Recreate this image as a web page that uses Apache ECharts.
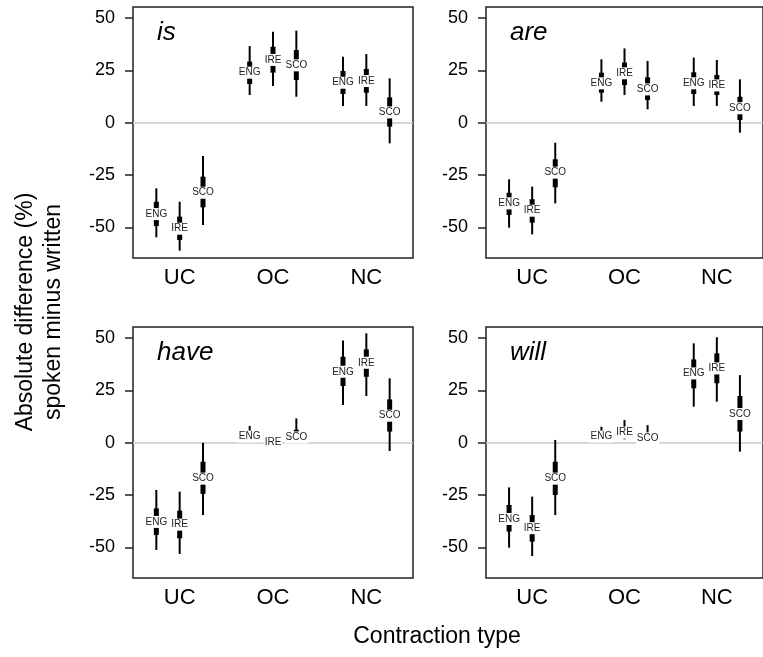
<!DOCTYPE html>
<html>
<head>
<meta charset="utf-8">
<script src="https://cdn.jsdelivr.net/npm/echarts@6/dist/echarts.min.js"></script>
<style>
  html, body { margin: 0; padding: 0; background: #fff; }
  #chart { width: 763px; height: 657px; }
</style>
</head>
<body>
<div id="chart"></div>
<script>
// contraction types and varieties
const contractionTypes = ['UC', 'OC', 'NC'];
const varieties = ['ENG', 'IRE', 'SCO'];
const xPos = [1, 2, 3, 5, 6, 7, 9, 10, 11]; // UC: 1-3, OC: 5-7, NC: 9-11
const typeTicks = [2, 6, 10];
const yTicks = [-50, -25, 0, 25, 50];
const panelWords = ['is', 'are', 'have', 'will'];

// is
const estIs  = [-43.7, -50.7, -33.5, 23.9, 30.0, 27.4, 19.1, 19.9, 4.9];
const lo95Is = [-54.8, -61.2, -48.9, 13.2, 17.5, 12.4, 8.0, 8.0, -9.9];
const hi95Is = [-31.4, -37.8, -15.9, 36.6, 43.5, 44.0, 31.5, 32.8, 21.2];
const lo50Is = [-49.4, -56.1, -40.5, 18.5, 23.9, 20.4, 13.7, 14.3, -1.9];
const hi50Is = [-37.8, -44.9, -25.8, 29.2, 36.3, 34.7, 24.7, 25.7, 12.1];

// are
const estAre  = [-38.6, -42.1, -23.9, 18.8, 23.6, 15.9, 18.8, 17.8, 6.9];
const lo95Are = [-50.2, -53.4, -38.6, 10.0, 13.2, 6.4, 8.0, 8.0, -4.8];
const hi95Are = [-27.1, -30.6, -9.6, 30.3, 35.5, 29.5, 31.1, 30.0, 20.7];
const lo50Are = [-44.1, -47.8, -30.9, 14.3, 18.0, 10.8, 13.7, 13.2, 1.3];
const hi50Are = [-33.5, -36.6, -17.5, 23.9, 28.7, 21.7, 24.1, 22.8, 12.4];

// have
const estHave  = [-37.9, -39.2, -17.2, 2.9, 0.3, 2.5, 33.9, 38.2, 12.9];
const lo95Have = [-51.3, -53.2, -34.6, 0.5, -1.0, 0.0, 18.0, 22.3, -4.0];
const hi95Have = [-22.6, -23.4, 0.0, 8.0, 2.0, 11.6, 48.8, 52.3, 30.8];
const lo50Have = [-44.1, -45.7, -24.5, 1.8, -0.3, 1.5, 27.1, 31.5, 5.3];
const hi50Have = [-31.4, -32.5, -9.1, 4.5, 1.0, 6.2, 41.1, 44.6, 20.7];

// will
const estWill  = [-36.5, -40.9, -17.2, 2.9, 4.8, 2.1, 33.1, 35.5, 13.7];
const lo95Will = [-50.2, -54.2, -34.6, 0.8, 1.6, 0.5, 17.2, 19.6, -4.3];
const hi95Will = [-21.4, -25.8, 1.3, 7.6, 10.8, 8.4, 47.5, 50.4, 32.3];
const lo50Will = [-42.5, -47.3, -25.0, 2.0, 3.2, 1.4, 26.0, 28.4, 5.3];
const hi50Will = [-29.8, -34.6, -9.1, 4.2, 7.0, 4.5, 39.8, 42.7, 22.3];

const panelData = [
    [estIs, lo95Is, hi95Is, lo50Is, hi50Is],
    [estAre, lo95Are, hi95Are, lo50Are, hi50Are],
    [estHave, lo95Have, hi95Have, lo50Have, hi50Have],
    [estWill, lo95Will, hi95Will, lo50Will, hi50Will]
];

const FONT = '"Liberation Sans", Arial, sans-serif';
const panelLeft = [133, 486, 133, 486];
const panelTop = [7, 7, 327, 327];
const panelW = 280, panelH = 251;

function renderItem(params, api) {
    let x = api.value(0);
    let p = api.coord([x, api.value(1)]);
    let lo95 = api.coord([x, api.value(2)]);
    let hi95 = api.coord([x, api.value(3)]);
    let lo50 = api.coord([x, api.value(4)]);
    let hi50 = api.coord([x, api.value(5)]);
    return {
        type: 'group',
        children: [
            {
                type: 'line',
                shape: { x1: p[0], y1: lo95[1], x2: p[0], y2: hi95[1] },
                style: { stroke: '#000', lineWidth: 2 }
            },
            {
                type: 'rect',
                shape: { x: p[0] - 2.5, y: hi50[1], width: 5, height: lo50[1] - hi50[1] },
                style: { fill: '#000' }
            },
            {
                type: 'text',
                x: p[0],
                y: p[1],
                style: {
                    text: varieties[params.dataIndex % 3],
                    fill: '#222',
                    font: '10px ' + FONT,
                    align: 'center',
                    verticalAlign: 'middle',
                    backgroundColor: '#fff',
                    padding: [1, 1]
                }
            }
        ]
    };
}

let grids = [], xAxes = [], yAxes = [], series = [], graphics = [];

for (let k = 0; k < 4; k++) {
    grids.push({
        left: panelLeft[k], top: panelTop[k], width: panelW, height: panelH,
        show: true, borderColor: '#222', borderWidth: 1.5, backgroundColor: '#fff'
    });
    xAxes.push({
        type: 'value', gridIndex: k, min: 0, max: 12,
        axisLine: { show: false },
        axisTick: { show: false },
        splitLine: { show: false },
        axisLabel: {
            customValues: typeTicks,
            formatter: function (v) { return contractionTypes[typeTicks.indexOf(v)]; },
            color: '#000', fontSize: 22, fontFamily: FONT, margin: 9
        }
    });
    yAxes.push({
        type: 'value', gridIndex: k, min: -64.7, max: 55.3,
        axisLine: { show: false },
        axisTick: { show: true, length: 8, customValues: yTicks, lineStyle: { color: '#222', width: 1.5 } },
        splitLine: { show: false },
        axisLabel: { customValues: yTicks, color: '#000', fontSize: 18, fontFamily: FONT, margin: 18 }
    });
    let d = panelData[k];
    series.push({
        type: 'line', xAxisIndex: k, yAxisIndex: k, data: [], silent: true, z: 1,
        markLine: {
            silent: true, symbol: 'none', label: { show: false },
            lineStyle: { color: '#c8c8c8', width: 1.5, type: 'solid' },
            data: [{ yAxis: 0 }]
        }
    });
    series.push({
        type: 'custom', xAxisIndex: k, yAxisIndex: k, z: 5,
        renderItem: renderItem,
        encode: { x: 0, y: 1 },
        data: xPos.map((x, i) => [x, d[0][i], d[1][i], d[2][i], d[3][i], d[4][i]])
    });
    graphics.push({
        type: 'text', left: panelLeft[k] + 24, top: panelTop[k] + 13, z: 10,
        style: { text: panelWords[k], font: 'italic 26px ' + FONT, fill: '#000' }
    });
}

graphics.push({
    type: 'text', x: 40, y: 312, rotation: Math.PI / 2,
    style: {
        text: 'Absolute difference (%)\nspoken minus written',
        font: '23px ' + FONT, fill: '#000', align: 'center', verticalAlign: 'middle',
        lineHeight: 28
    }
});
graphics.push({
    type: 'text', x: 437, y: 637,
    style: { text: 'Contraction type', font: '23px ' + FONT, fill: '#000', align: 'center', verticalAlign: 'middle' }
});

let myChart = echarts.init(document.getElementById('chart'));
myChart.setOption({
    animation: false,
    grid: grids,
    xAxis: xAxes,
    yAxis: yAxes,
    series: series,
    graphic: graphics
});
</script>
</body>
</html>
